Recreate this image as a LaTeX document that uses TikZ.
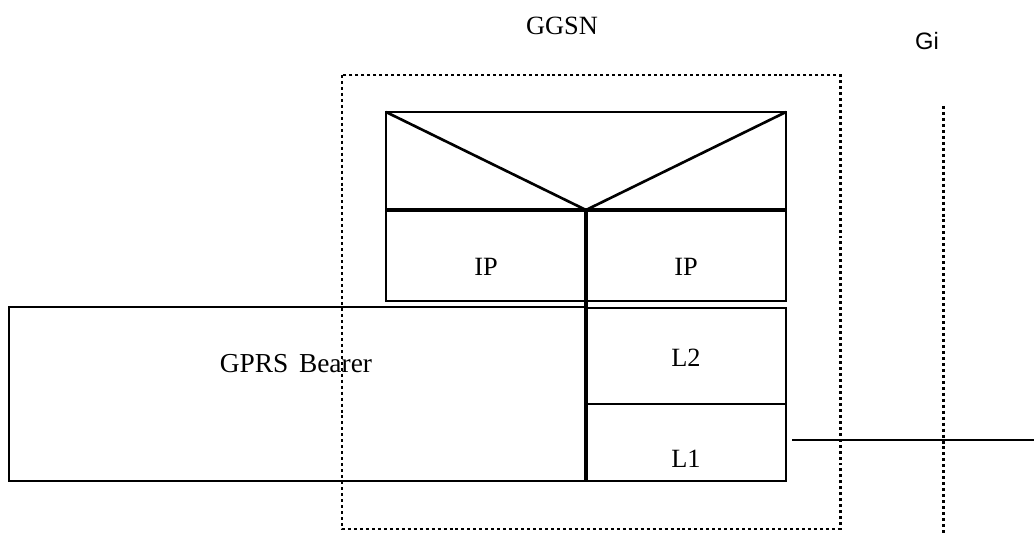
\documentclass[tikz,border=0pt]{standalone}
\usepackage{fontspec}
\setmainfont{Liberation Serif}
\newfontfamily\arialfont{Liberation Sans}
\usepackage{tikz}

\tikzset{
  layer/.style={draw=black, line width=1.5pt},
  divider/.style={draw=black, line width=2.3pt},
  boundary/.style={draw=black, line width=1.7pt, dash pattern=on 1.7pt off 1.7pt},
  stacktext/.style={font=\fontsize{15}{18}\selectfont},
  ifacetext/.style={font=\arialfont\fontsize{13.5}{16}\selectfont}
}

\begin{document}
\begin{tikzpicture}[x=0.02cm,y=-0.02cm]
  \useasboundingbox (0,0) rectangle (1034,533);

  % GGSN boundary and Gi reference point
  \draw[boundary] (342,75) rectangle (840,529);
  \draw[boundary] (943,106) -- (943,533);
  \node[stacktext] (ggsn) at (562,26) {GGSN};
  \node[ifacetext] (gi) at (927,41) {Gi};

  % relay box
  \draw[layer] (386,112) rectangle (786,210);
  \draw[layer] (386,112) -- (586,210) -- (786,112);
  \draw[layer] (386,210) rectangle (586,301);
  \draw[layer] (586,210) rectangle (786,301);
  \draw[divider] (386,210) -- (786,210);

  % bearer and lower layers
  \draw[layer] (9,307) rectangle (586,481);
  \draw[layer] (586,308) rectangle (786,404);
  \draw[layer] (586,404) rectangle (786,481);
  \draw[divider] (586,210) -- (586,481);

  \node[stacktext] (ipleft) at (486,267) {IP};
  \node[stacktext] (ipright) at (686,267) {IP};
  \node[stacktext] (ltwo) at (686,358) {L2};
  \node[stacktext] (lone) at (686,459) {L1};
  \node[stacktext, font=\fontsize{15.6}{18}\selectfont] (bearer) at (296,364) {GPRS\hspace{6pt}Bearer};

  % Gi link
  \coordinate (linkstart) at (792,440);
  \coordinate (linkend) at (1034,440);
  \draw[layer] (linkstart) -- (linkend);
\end{tikzpicture}
\end{document}
